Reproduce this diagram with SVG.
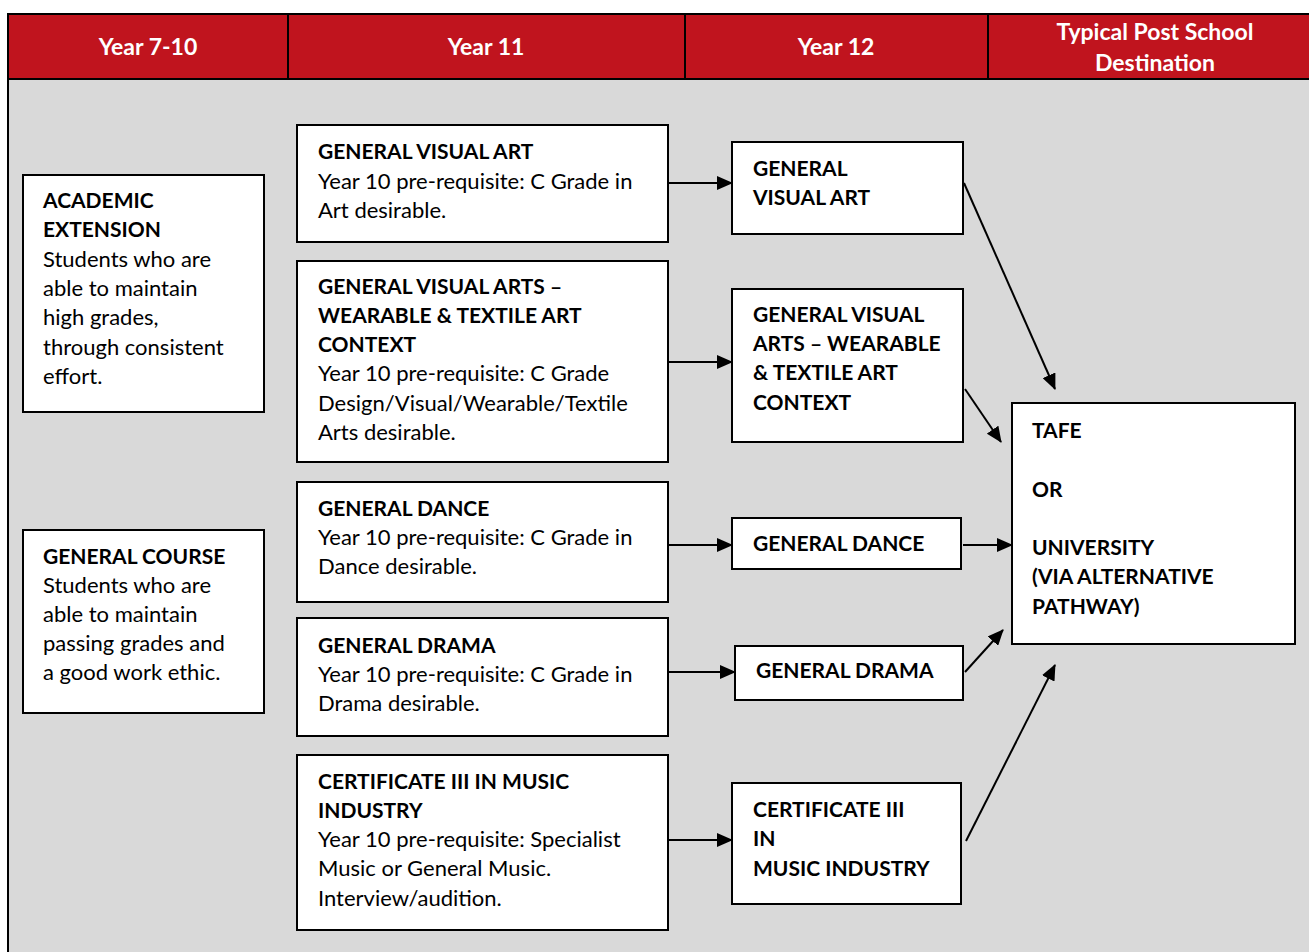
<svg xmlns="http://www.w3.org/2000/svg" width="1309" height="952" viewBox="0 0 1309 952">
<defs>
<marker id="ahL" markerWidth="16" markerHeight="14" refX="15" refY="7" orient="auto" markerUnits="userSpaceOnUse"><path d="M0,0 L16,7 L0,14 z" fill="#000"/></marker>
<style>
text{font-family:Lato,"Liberation Sans",sans-serif;font-size:22px;fill:#000}
.b{font-weight:bold;font-size:21px}
.h{font-weight:bold;fill:#fff;font-size:23px;text-anchor:middle}
.box{fill:#fff;stroke:#000;stroke-width:2}
.c{stroke:#000;stroke-width:2;fill:none;marker-end:url(#ahL)}
</style>
</defs>
<rect width="1309" height="952" fill="#fff"/>
<g id="table">
<rect x="8" y="14" width="1310" height="950" fill="#D9D9D9" stroke="#000" stroke-width="2"/>
<rect x="8" y="14" width="1310" height="65" fill="#C0141E" stroke="#000" stroke-width="2"/>
<line x1="288" y1="14" x2="288" y2="79" stroke="#000" stroke-width="2"/>
<line x1="685" y1="14" x2="685" y2="79" stroke="#000" stroke-width="2"/>
<line x1="988" y1="14" x2="988" y2="79" stroke="#000" stroke-width="2"/>
<text class="h" x="148" y="55">Year 7-10</text>
<text class="h" x="486" y="55">Year 11</text>
<text class="h" x="836" y="55">Year 12</text>
<text class="h" x="1155" y="40">Typical Post School</text>
<text class="h" x="1155" y="71">Destination</text>
</g>
<g id="academic-extension">
<rect class="box" x="23" y="175" width="241" height="237"/>
<text x="43" y="208" class="b">ACADEMIC</text>
<text x="43" y="237" class="b">EXTENSION</text>
<text x="43" y="267">Students who are</text>
<text x="43" y="296">able to maintain</text>
<text x="43" y="325">high grades,</text>
<text x="43" y="355">through consistent</text>
<text x="43" y="384">effort.</text>
</g>
<g id="general-course">
<rect class="box" x="23" y="530" width="241" height="183"/>
<text x="43" y="564" class="b">GENERAL COURSE</text>
<text x="43" y="593">Students who are</text>
<text x="43" y="622">able to maintain</text>
<text x="43" y="651">passing grades and</text>
<text x="43" y="680">a good work ethic.</text>
</g>
<g id="y11-visual-art">
<rect class="box" x="297" y="125" width="371" height="117"/>
<text x="318" y="159" class="b">GENERAL VISUAL ART</text>
<text x="318" y="189">Year 10 pre-requisite: C Grade in</text>
<text x="318" y="218">Art desirable.</text>
</g>
<g id="y11-wearable">
<rect class="box" x="297" y="261" width="371" height="201"/>
<text x="318" y="294" class="b">GENERAL VISUAL ARTS –</text>
<text x="318" y="323" class="b">WEARABLE &amp; TEXTILE ART</text>
<text x="318" y="352" class="b">CONTEXT</text>
<text x="318" y="381">Year 10 pre-requisite: C Grade</text>
<text x="318" y="411">Design/Visual/Wearable/Textile</text>
<text x="318" y="440">Arts desirable.</text>
</g>
<g id="y11-dance">
<rect class="box" x="297" y="482" width="371" height="120"/>
<text x="318" y="516" class="b">GENERAL DANCE</text>
<text x="318" y="545">Year 10 pre-requisite: C Grade in</text>
<text x="318" y="574">Dance desirable.</text>
</g>
<g id="y11-drama">
<rect class="box" x="297" y="618" width="371" height="118"/>
<text x="318" y="653" class="b">GENERAL DRAMA</text>
<text x="318" y="682">Year 10 pre-requisite: C Grade in</text>
<text x="318" y="711">Drama desirable.</text>
</g>
<g id="y11-music">
<rect class="box" x="297" y="755" width="371" height="175"/>
<text x="318" y="789" class="b">CERTIFICATE III IN MUSIC</text>
<text x="318" y="818" class="b">INDUSTRY</text>
<text x="318" y="847">Year 10 pre-requisite: Specialist</text>
<text x="318" y="876">Music or General Music.</text>
<text x="318" y="906">Interview/audition.</text>
</g>
<g id="y12-visual-art">
<rect class="box" x="732" y="142" width="231" height="92"/>
<text x="753" y="176" class="b">GENERAL</text>
<text x="753" y="205" class="b">VISUAL ART</text>
</g>
<g id="y12-wearable">
<rect class="box" x="732" y="289" width="231" height="153"/>
<text x="753" y="322" class="b">GENERAL VISUAL</text>
<text x="753" y="351" class="b">ARTS – WEARABLE</text>
<text x="753" y="380" class="b">&amp; TEXTILE ART</text>
<text x="753" y="410" class="b">CONTEXT</text>
</g>
<g id="y12-dance">
<rect class="box" x="732" y="518" width="229" height="51"/>
<text x="753" y="551" class="b">GENERAL DANCE</text>
</g>
<g id="y12-drama">
<rect class="box" x="735" y="646" width="228" height="54"/>
<text x="756" y="678" class="b">GENERAL DRAMA</text>
</g>
<g id="y12-music">
<rect class="box" x="732" y="783" width="229" height="121"/>
<text x="753" y="817" class="b">CERTIFICATE III</text>
<text x="753" y="846" class="b">IN</text>
<text x="753" y="876" class="b">MUSIC INDUSTRY</text>
</g>
<g id="destination">
<rect class="box" x="1012" y="403" width="283" height="241"/>
<text x="1032" y="438" class="b">TAFE</text>
<text x="1032" y="497" class="b">OR</text>
<text x="1032" y="555" class="b">UNIVERSITY</text>
<text x="1032" y="584" class="b">(VIA ALTERNATIVE</text>
<text x="1032" y="614" class="b">PATHWAY)</text>
</g>
<g id="connectors">
<line class="c" x1="669" y1="183" x2="732" y2="183"/>
<line class="c" x1="669" y1="362" x2="732" y2="362"/>
<line class="c" x1="669" y1="545" x2="732" y2="545"/>
<line class="c" x1="669" y1="672" x2="735" y2="672"/>
<line class="c" x1="669" y1="840" x2="732" y2="840"/>
<line class="c" x1="964" y1="183" x2="1055" y2="389"/>
<line class="c" x1="965" y1="389" x2="1001" y2="442"/>
<line class="c" x1="963" y1="545" x2="1012" y2="545"/>
<line class="c" x1="965" y1="672" x2="1003" y2="630"/>
<line class="c" x1="966" y1="841" x2="1055" y2="665"/>
</g>
</svg>
